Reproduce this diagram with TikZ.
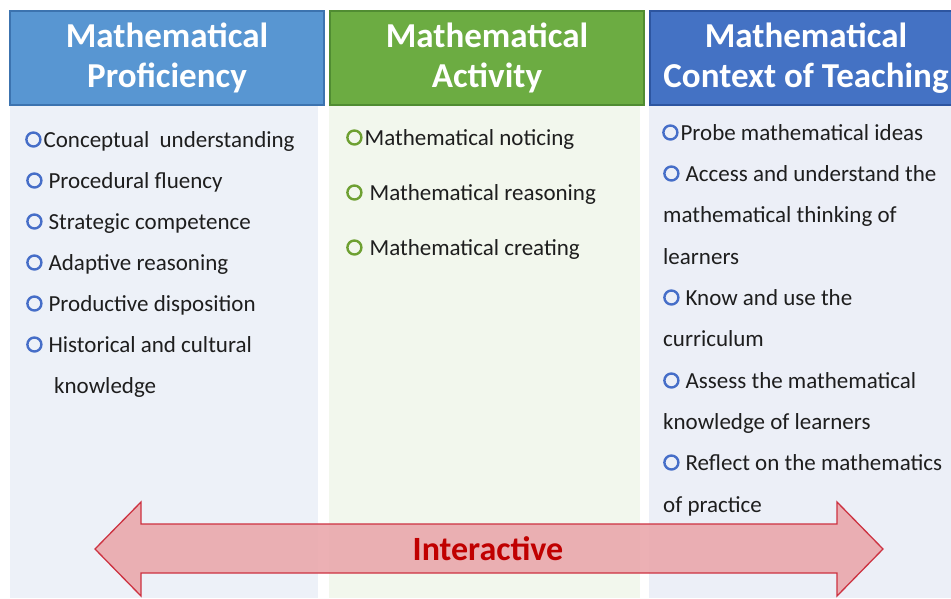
\documentclass[tikz,border=0pt]{standalone}
\usepackage{fontspec}
\setmainfont{Carlito}
\definecolor{hblue}{RGB}{88,150,210}
\definecolor{hblueb}{RGB}{60,115,175}
\definecolor{hgreen}{RGB}{108,172,66}
\definecolor{hgreenb}{RGB}{80,140,50}
\definecolor{hdblue}{RGB}{68,114,196}
\definecolor{hdblueb}{RGB}{45,85,160}
\definecolor{bgblue}{RGB}{237,241,248}
\definecolor{bggreen}{RGB}{242,247,237}
\definecolor{bgdblue}{RGB}{236,239,247}
\definecolor{bulblue}{RGB}{70,110,200}
\definecolor{bulgreen}{RGB}{110,160,50}
\definecolor{arrfill}{RGB}{234,168,172}
\definecolor{arrdraw}{RGB}{205,50,65}
\definecolor{arrtext}{RGB}{192,0,0}
\definecolor{txt}{RGB}{30,30,30}
\newcommand{\ringb}{\tikz[x=1pt,y=1pt,baseline=-7.5pt]\draw[bulblue,line width=2.4pt] (0,0) circle (7pt);}
\newcommand{\ringg}{\tikz[x=1pt,y=1pt,baseline=-7.5pt]\draw[bulgreen,line width=2.4pt] (0,0) circle (7pt);}
\newcommand{\bulb}{\ringb\hspace{6pt}}
\newcommand{\bulg}{\ringg\hspace{7pt}}
\tikzset{
  headbox/.style={line width=1.2pt},
  headtext/.style={text=white,font=\fontsize{35}{40}\selectfont\bfseries,align=center,inner sep=0pt},
  item/.style={anchor=base west,inner sep=0pt,text=txt,font=\fontsize{23}{26}\selectfont},
}
\begin{document}
\begin{tikzpicture}[x=1pt,y=-1pt]
\useasboundingbox (0,0) rectangle (951,598);
\fill[white] (0,0) rectangle (951,598);
% column backgrounds
\fill[bgblue] (10,106) rectangle (318,598);
\fill[bggreen] (329,106) rectangle (640,598);
\fill[bgdblue] (649,106) rectangle (951,598);
% headers
\draw[headbox,fill=hblue,draw=hblueb] (10,11) rectangle (324,105);
\draw[headbox,fill=hgreen,draw=hgreenb] (330,11) rectangle (644,105);
\draw[headbox,fill=hdblue,draw=hdblueb] (650,11) rectangle (955,105);
\node[headtext] (h1) at (167,58) {Mathematical\\Proficiency};
\node[headtext] (h2) at (487,58) {Mathematical\\Activity};
\node[headtext] (h3) at (806,58) {Mathematical\\Context of Teaching};
% left column
\node[item] (l1) at (25,147) {\ringb\hspace{2pt}Conceptual\ \ understanding};
\node[item] (l2) at (26,188) {\bulb Procedural fluency};
\node[item] (l3) at (26,229) {\bulb Strategic competence};
\node[item] (l4) at (26,270) {\bulb Adaptive reasoning};
\node[item] (l5) at (26,311) {\bulb Productive disposition};
\node[item] (l6) at (26,352) {\bulb Historical and cultural};
\node[item] (l7) at (54,393) {knowledge};
% middle column
\node[item] (m1) at (346,145) {\ringg\hspace{2pt}Mathematical noticing};
\node[item] (m2) at (346,200) {\bulg Mathematical reasoning};
\node[item] (m3) at (346,255) {\bulg Mathematical creating};
% right column
\node[item] (r1) at (662,140) {\ringb\hspace{2pt}Probe mathematical ideas};
\node[item] (r2) at (663,181) {\bulb Access and understand the};
\node[item] (r3) at (663,222) {mathematical thinking of};
\node[item] (r4) at (663,264) {learners};
\node[item] (r5) at (663,305) {\bulb Know and use the};
\node[item] (r6) at (663,346) {curriculum};
\node[item] (r7) at (663,388) {\bulb Assess the mathematical};
\node[item] (r8) at (663,429) {knowledge of learners};
\node[item] (r9) at (663,470) {\bulb Reflect on the mathematics};
\node[item] (r10) at (663,512) {of practice};
% double arrow
\draw[fill=arrfill,fill opacity=0.9,draw=arrdraw,line width=1.3pt,line join=miter]
  (95,549) -- (141,502) -- (141,524) -- (837,524) -- (837,502) -- (883,549)
  -- (837,596) -- (837,573) -- (141,573) -- (141,596) -- cycle;
\node[text=arrtext,font=\fontsize{34}{38}\selectfont\bfseries,inner sep=0pt] (ia) at (488,549) {Interactive};
\end{tikzpicture}
\end{document}
